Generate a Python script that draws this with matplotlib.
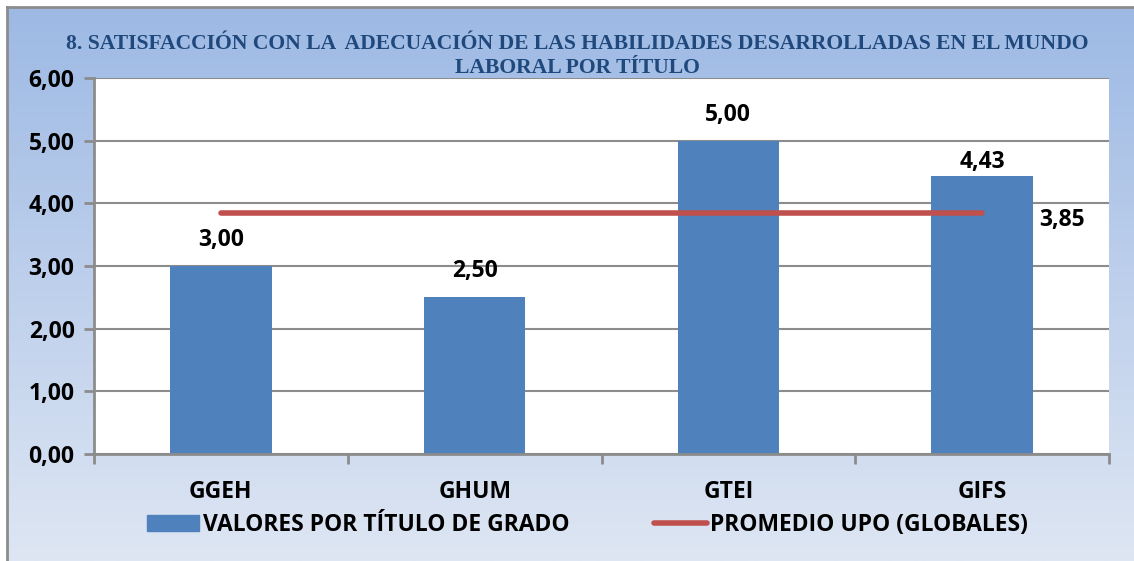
import numpy as np
import matplotlib
matplotlib.use("Agg")
import matplotlib.pyplot as plt
from matplotlib.patches import Rectangle
from matplotlib.lines import Line2D

categories = ["GGEH", "GHUM", "GTEI", "GIFS"]
valores = [3.00, 2.50, 5.00, 4.43]
promedio = [3.85, 3.85, 3.85, 3.85]
yticks = [0, 1, 2, 3, 4, 5, 6]

title = "8. SATISFACCIÓN CON LA  ADECUACIÓN DE LAS HABILIDADES DESARROLLADAS EN EL MUNDO\nLABORAL POR TÍTULO"
bar_label = "VALORES POR TÍTULO DE GRADO"
line_label = "PROMEDIO UPO (GLOBALES)"

def fmt(v):
    return f"{v:.2f}".replace(".", ",")

W, H = 1134, 561
fig = plt.figure(figsize=(W / 100, H / 100), dpi=100)
fig.patch.set_facecolor("white")

# gradient background
bg = fig.add_axes([7 / W, 0, 1 - 7 / W, 1 - 7 / H])
top = np.array([157, 185, 228]) / 255
bot = np.array([222, 230, 243]) / 255
t = np.linspace(0, 1, 256)[:, None]
grad = (top[None, :] * (1 - t) + bot[None, :] * t)[:, None, :]
bg.imshow(grad, aspect="auto", extent=[0, 1, 0, 1])
bg.set_axis_off()
fig.add_artist(Line2D([7 / W, 7 / W], [0, 1 - 7 / H], color="#8c8c8c", lw=2))
fig.add_artist(Line2D([7 / W, 1], [1 - 7 / H, 1 - 7 / H], color="#8c8c8c", lw=2))

ax = fig.add_axes([94 / W, 1 - 454 / H, (1109 - 94) / W, (454 - 78) / H])
ax.set_facecolor("white")
x = np.arange(len(categories))
bar_color = "#4F81BD"
line_color = "#C0504D"

ax.bar(x, valores, width=0.4, color=bar_color, zorder=2)
ax.plot(x, promedio, color=line_color, lw=4, solid_capstyle="round", zorder=3)

lab_font = dict(family="Open Sans", weight="bold", fontsize=16.5, color="black")
offsets = [26, 26, 26, 14]
for xi, v, off in zip(x, valores, offsets):
    ax.annotate(fmt(v), (xi, v), xytext=(0, off), textcoords="offset pixels",
                ha="center", va="center", **lab_font)
ax.annotate(fmt(promedio[-1]), (x[-1], promedio[-1]), xytext=(80, -7),
            textcoords="offset pixels", ha="center", va="center", **lab_font)

ax.set_xlim(-0.5, len(categories) - 0.5)
ax.set_ylim(0, 6)
ax.set_yticks(yticks)
ax.set_yticklabels([fmt(v) for v in yticks], **lab_font)
ax.set_xticks(x)
ax.set_xticklabels(categories, **lab_font)
ax.set_xticks(np.arange(-0.5, len(categories)), minor=True)
ax.tick_params(axis="x", which="major", length=0, pad=19)
ax.tick_params(axis="x", which="minor", length=7, width=2, color="#8c8c8c")
ax.tick_params(axis="y", length=7, width=2, color="#8c8c8c", pad=7)
ax.grid(axis="y", color="#8c8c8c", lw=1.5, zorder=0)
ax.set_axisbelow(True)
for s in ["top", "right"]:
    ax.spines[s].set_visible(False)
for s in ["left", "bottom"]:
    ax.spines[s].set_color("#8c8c8c")
    ax.spines[s].set_linewidth(2)

fig.text(0.5 + 10 / W, 1 - 56 / H, title, ha="center", va="center",
         family="Liberation Serif", weight="bold", fontsize=15.6,
         color="#1F497D", linespacing=1.3)

handles = [Rectangle((0, 0), 1, 1, color=bar_color),
           Line2D([0], [0], color=line_color, lw=4, solid_capstyle="round")]
fig.legend(handles, [bar_label, line_label], loc="center",
           bbox_to_anchor=(0.518, 1 - 525 / H), ncol=2, frameon=False,
           prop=dict(family="Open Sans", weight="bold", size=16.5),
           handlelength=2.3, handletextpad=0.15, columnspacing=3.7)

fig.savefig("out.png", dpi=100)
